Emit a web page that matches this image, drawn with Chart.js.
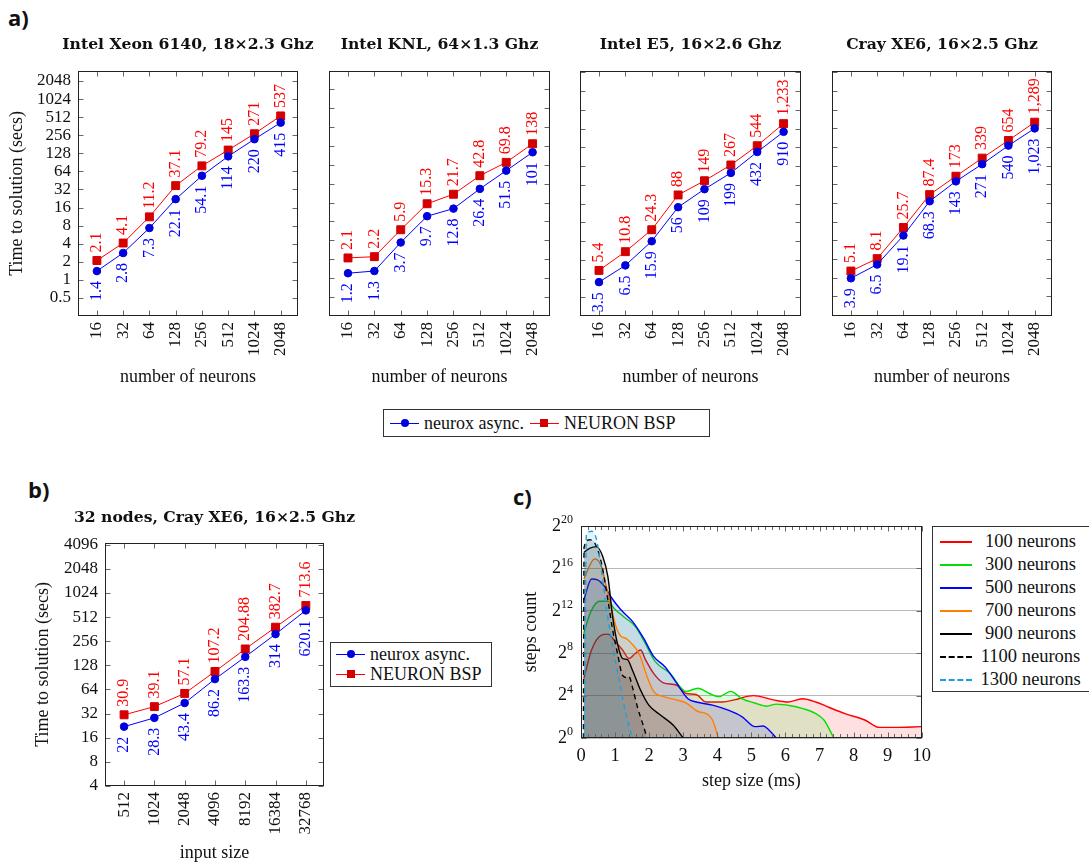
<!DOCTYPE html>
<html>
<head>
<meta charset="utf-8">
<script src="https://cdn.jsdelivr.net/npm/chart.js@4.4.1/dist/chart.umd.min.js"></script>
<style>
  body { margin: 0; background: #fff; }
  #fig { position: relative; width: 1089px; height: 864px; overflow: hidden; font-family: "Liberation Serif", serif; color: #111; }
  canvas { position: absolute; }
  .tag { position: absolute; font: bold 22px "Open Sans", sans-serif; line-height: 24px; color: #111; }
  .legend { position: absolute; box-sizing: border-box; border: 1px solid #333; background: #fff; font: 18px "Liberation Serif", serif; color: #111; }
  .sample { position: relative; display: inline-block; height: 0; }
  .mark { position: absolute; width: 8px; height: 8px; top: -5px; }
  .mark.dot { border-radius: 50%; }
  #legA { left: 383px; top: 409px; width: 327px; height: 28px; display: flex; align-items: center; padding-left: 6px; }
  #legA .item { display: flex; align-items: center; margin-right: 6px; }
  #legA .sample, #legB .sample { width: 29px; margin-right: 5px; }
  #legB { left: 330px; top: 642px; width: 162px; height: 45px; padding: 1px 0 0 5px; }
  #legB .item { display: flex; align-items: center; height: 20px; }
  #legC { left: 932px; top: 526px; width: 160px; height: 166px; padding: 3px 0 0 7px; font-size: 18.5px; }
  #legC .item { display: flex; align-items: center; height: 23px; }
  #legC .sample { width: 32px; }
  #legC .txt { display: inline-block; width: 109px; text-align: center; margin-left: 4px; }
</style>
</head>
<body>
<div id="fig">
  <div class="tag" style="left:8px;top:5px">a)</div>
  <div class="tag" style="left:28px;top:477px">b)</div>
  <div class="tag" style="left:513px;top:484px">c)</div>

  <canvas id="a1" width="376" height="363" style="left:0px;top:28px"></canvas>
  <canvas id="a2" width="281" height="363" style="left:299px;top:28px"></canvas>
  <canvas id="a3" width="281" height="363" style="left:550px;top:28px"></canvas>
  <canvas id="a4" width="280" height="363" style="left:802px;top:28px"></canvas>
  <div id="legA" class="legend"></div>

  <canvas id="b" width="429" height="374" style="left:0px;top:490px"></canvas>
  <div id="legB" class="legend"></div>

  <canvas id="c" width="423" height="290" style="left:515px;top:506px"></canvas>
  <div id="legC" class="legend"></div>
</div>

<script>
// ---- data, panel a : time to solution (secs) per number of neurons
const neuronCounts = ["16", "32", "64", "128", "256", "512", "1024", "2048"];
const xeonBsp = [2.1, 4.1, 11.2, 37.1, 79.2, 145, 271, 537];
const xeonAsync = [1.4, 2.8, 7.3, 22.1, 54.1, 114, 220, 415];
const knlBsp = [2.1, 2.2, 5.9, 15.3, 21.7, 42.8, 69.8, 138];
const knlAsync = [1.2, 1.3, 3.7, 9.7, 12.8, 26.4, 51.5, 101];
const e5Bsp = [5.4, 10.8, 24.3, 88, 149, 267, 544, 1233];
const e5Async = [3.5, 6.5, 15.9, 56, 109, 199, 432, 910];
const xe6Bsp = [5.1, 8.1, 25.7, 87.4, 173, 339, 654, 1289];
const xe6Async = [3.9, 6.5, 19.1, 68.3, 143, 271, 540, 1023];
const timeTicksXeon = [0.5, 1, 2, 4, 8, 16, 32, 64, 128, 256, 512, 1024, 2048];
const timeTicksKnl = [0.5, 1, 2, 4, 8, 16, 32, 64, 128, 256, 512, 1024];
const timeTicksLarge = [2, 4, 8, 16, 32, 64, 128, 256, 512, 1024, 2048, 4096, 8192];

// ---- data, panel b : 32 nodes, input size scaling
const inputSizes = ["512", "1024", "2048", "4096", "8192", "16384", "32768"];
const scaleBsp = [30.9, 39.1, 57.1, 107.2, 204.88, 382.7, 713.6];
const scaleAsync = [22, 28.3, 43.4, 86.2, 163.3, 314, 620.1];
const timeTicksB = [4, 8, 16, 32, 64, 128, 256, 512, 1024, 2048, 4096];

// ---- data, panel c : step size (ms) vs log2(steps count)
const stepX100 = [0.08, 0.31, 0.6, 0.79, 0.98, 1.22, 1.41, 1.6, 1.75, 1.89, 2.13, 2.42, 2.8, 3.09, 3.38, 3.67, 4.15, 4.5, 5.06, 5.64, 6.07, 6.5, 6.89, 7.27, 7.75, 8.33, 8.76, 9.2, 10];
const log2Steps100 = [5.6, 8.3, 9.7, 9.8, 9.2, 8.3, 7.5, 8.0, 8.3, 7.4, 6.1, 5.2, 5.0, 4.2, 4.1, 3.4, 3.4, 3.6, 4.0, 3.6, 3.4, 3.7, 3.4, 2.9, 2.3, 1.7, 1.0, 1.0, 1.07];
const stepX300 = [0.08, 0.3, 0.55, 0.79, 0.98, 1.27, 1.6, 1.89, 2.18, 2.61, 3.09, 3.43, 3.77, 4.05, 4.39, 4.73, 5.1, 5.45, 5.73, 6.31, 6.89, 7.13, 7.42];
const log2Steps300 = [9.9, 12.0, 12.9, 12.9, 12.2, 11.4, 10.5, 8.9, 7.2, 6.1, 4.4, 4.7, 4.2, 3.9, 4.4, 3.7, 3.3, 3.0, 3.2, 2.95, 2.3, 1.7, 0];
const stepX500 = [0.08, 0.31, 0.5, 0.69, 0.88, 1.17, 1.51, 1.84, 2.13, 2.47, 2.8, 3.14, 3.38, 3.86, 4.34, 4.73, 5.11, 5.35, 5.5, 5.73];
const log2Steps500 = [13.0, 15.0, 14.9, 14.3, 13.3, 12.1, 11.0, 9.4, 7.7, 6.7, 5.2, 3.7, 3.4, 3.1, 2.6, 2.0, 1.07, 1.13, 0.8, 0];
const stepX700 = [0.08, 0.4, 0.6, 0.74, 0.88, 1.03, 1.17, 1.32, 1.46, 1.7, 1.94, 2.13, 2.42, 2.8, 3.09, 3.43, 3.67, 3.86, 4.03];
const log2Steps700 = [15.0, 16.9, 16.2, 14.3, 12.4, 10.5, 9.6, 9.4, 9.0, 8.0, 5.8, 4.4, 3.9, 3.6, 3.3, 2.5, 2.3, 1.7, 0];
const stepX900 = [0.08, 0.25, 0.45, 0.64, 0.79, 0.93, 1.07, 1.22, 1.36, 1.51, 1.75, 1.99, 2.32, 2.71, 3.0];
const log2Steps900 = [17.5, 17.9, 18.05, 17.1, 15.2, 11.4, 8.9, 7.5, 7.4, 6.4, 4.5, 3.1, 2.2, 1.2, 0];
const stepX1100 = [0.07, 0.09, 0.26, 0.4, 0.6, 0.79, 0.93, 1.07, 1.22, 1.34, 1.41, 1.51, 1.65, 1.84, 1.96, 10];
const log2Steps1100 = [0, 18.0, 18.7, 18.4, 16.5, 13.0, 10.2, 8.0, 5.9, 5.7, 5.8, 4.8, 3.0, 1.07, 0, 0];
const stepX1300 = [0.1, 0.16, 0.31, 0.45, 0.6, 0.74, 0.93, 1.12, 1.32, 1.56, 10];
const log2Steps1300 = [0, 19.3, 19.5, 18.8, 15.8, 12.4, 8.6, 5.5, 2.3, 0, 0];

Chart.defaults.font.family = '"Liberation Serif", serif';
Chart.defaults.color = "#111";

const SERIF = '"Liberation Serif", serif';

// pgfplots style frame with inward tick marks
const frameTicks = {
  id: "frameTicks",
  afterDatasetsDraw(chart, args, opts) {
    const { ctx, chartArea: a, scales } = chart;
    const x = scales.x, y = scales.y;
    const L = Math.round(a.left) + 0.5, R = Math.round(a.right) - 0.5;
    const T = Math.round(a.top) + 0.5, B = Math.round(a.bottom) - 0.5;
    ctx.save();
    ctx.strokeStyle = "#666";
    ctx.lineWidth = 1;
    ctx.beginPath();
    y.ticks.forEach(t => {
      const p = Math.round(y.getPixelForValue(t.value)) + 0.5;
      ctx.moveTo(L, p); ctx.lineTo(L + 5, p);
      ctx.moveTo(R, p); ctx.lineTo(R - 5, p);
    });
    x.ticks.forEach(t => {
      const p = Math.round(x.getPixelForValue(t.value)) + 0.5;
      ctx.moveTo(p, T); ctx.lineTo(p, T + 5);
      ctx.moveTo(p, B); ctx.lineTo(p, B - 5);
    });
    if (opts.minorStep) {
      for (let v = x.min; v <= x.max + 1e-9; v += opts.minorStep) {
        const p = Math.round(x.getPixelForValue(v)) + 0.5;
        ctx.moveTo(p, T); ctx.lineTo(p, T + 3.5);
        ctx.moveTo(p, B); ctx.lineTo(p, B - 3.5);
      }
    }
    ctx.stroke();
    ctx.strokeStyle = "#222";
    ctx.strokeRect(L, T, R - L, B - T);
    ctx.restore();
  }
};

// rotated value labels next to each point
const pointLabels = {
  id: "pointLabels",
  afterDatasetsDraw(chart) {
    const ctx = chart.ctx;
    chart.data.datasets.forEach((ds, i) => {
      if (!ds.labelSide) return;
      const meta = chart.getDatasetMeta(i);
      meta.data.forEach((pt, j) => {
        const above = ds.labelSide === "above";
        ctx.save();
        ctx.translate(pt.x, above ? pt.y - 8 : pt.y + 10);
        ctx.rotate(-Math.PI / 2);
        ctx.font = "16px " + SERIF;
        ctx.fillStyle = ds.borderColor;
        ctx.textAlign = above ? "left" : "right";
        ctx.textBaseline = "middle";
        ctx.fillText(ds.data[j].y.toLocaleString("en-US"), 0, 0);
        ctx.restore();
      });
    });
  }
};

// 2^n labels for panel c
const powerLabels = {
  id: "powerLabels",
  afterDraw(chart) {
    const { ctx, chartArea: a, scales: { y } } = chart;
    ctx.save();
    ctx.fillStyle = "#111";
    ctx.textAlign = "right";
    ctx.textBaseline = "middle";
    y.ticks.forEach(t => {
      const py = y.getPixelForValue(t.value);
      const exp = String(t.value);
      ctx.font = "12px " + SERIF;
      const ew = ctx.measureText(exp).width;
      ctx.fillText(exp, a.left - 8, py - 6);
      ctx.font = "18px " + SERIF;
      ctx.fillText("2", a.left - 8 - ew, py);
    });
    ctx.restore();
  }
};

function asPoints(values) {
  return values.map((v, i) => ({ x: i, y: v }));
}

function timeSeries(bsp, async) {
  return [
    {
      label: "neurox async.", data: asPoints(async), labelSide: "below",
      borderColor: "#0000ff", borderWidth: 1, pointStyle: "circle", pointRadius: 3.8,
      pointBackgroundColor: "#0000dd", pointBorderColor: "#0000dd"
    },
    {
      label: "NEURON BSP", data: asPoints(bsp), labelSide: "above",
      borderColor: "#ff0000", borderWidth: 1, pointStyle: "rect", pointRadius: 5.6,
      pointBackgroundColor: "#d40000", pointBorderColor: "#d40000"
    }
  ];
}

function timeChart(id, opt) {
  return new Chart(document.getElementById(id), {
    type: "line",
    data: { datasets: timeSeries(opt.bsp, opt.async) },
    options: {
      responsive: false, animation: false, devicePixelRatio: 1,
      layout: { padding: 0 },
      plugins: {
        legend: { display: false }, tooltip: { enabled: false },
        title: {
          display: true, text: opt.title, color: "#111",
          font: { family: '"DejaVu Serif", serif', size: 15.6, weight: "bold" },
          padding: { top: opt.titleTop, bottom: opt.titleBottom }
        }
      },
      scales: {
        x: {
          type: "linear", min: opt.xMin, max: opt.xMax,
          grid: { display: false, drawTicks: false }, border: { display: false },
          afterBuildTicks: s => { s.ticks = opt.labels.map((l, i) => ({ value: i })); },
          afterFit: s => { s.height = opt.xHeight; },
          ticks: {
            minRotation: 90, maxRotation: 90, padding: 6, autoSkip: false,
            font: { size: 17 }, color: "#111",
            callback: v => opt.labels[v]
          },
          title: { display: true, text: opt.xTitle, font: { size: 18 }, color: "#111", padding: { top: 0, bottom: opt.xTitleBottom } }
        },
        y: {
          type: "logarithmic", min: opt.yMin, max: opt.yMax,
          grid: { display: false, drawTicks: false }, border: { display: false },
          afterBuildTicks: s => { s.ticks = opt.yTicks.map(v => ({ value: v })); },
          afterFit: s => { s.width = opt.yWidth; },
          ticks: { display: opt.showY, autoSkip: false, padding: 7, font: { size: 17 }, color: "#111", callback: v => String(v) },
          title: { display: opt.showY, text: "Time to solution (secs)", font: { size: 18 }, color: "#111", padding: { top: opt.yTitleTop, bottom: 0 } }
        },
        // empty box on the right so the panel title stays centred over the plot
        spacer: {
          type: "linear", position: "right", display: true,
          grid: { display: false, drawTicks: false }, border: { display: false },
          ticks: { display: false },
          afterFit: s => { s.width = opt.rightWidth; }
        }
      }
    },
    plugins: [frameTicks, pointLabels]
  });
}

const panelA = { xMin: -0.72, xMax: 7.66, labels: neuronCounts, xHeight: 75, xTitle: "number of neurons", xTitleBottom: 3, titleTop: 8, titleBottom: 16 };

const chartA1 = timeChart("a1", Object.assign({}, panelA, {
  title: "Intel Xeon 6140, 18\u00d72.3 Ghz", bsp: xeonBsp, async: xeonAsync,
  yWidth: 78, rightWidth: 78, showY: true, yTitleTop: 6,
  yMin: 0.25, yMax: 3040, yTicks: timeTicksXeon
}));
timeChart("a2", Object.assign({}, panelA, {
  title: "Intel KNL, 64\u00d71.3 Ghz", bsp: knlBsp, async: knlAsync,
  yWidth: 30, rightWidth: 30, showY: false, yTitleTop: 0,
  yMin: 0.25, yMax: 2006, yTicks: timeTicksKnl
}));
timeChart("a3", Object.assign({}, panelA, {
  title: "Intel E5, 16\u00d72.6 Ghz", bsp: e5Bsp, async: e5Async,
  yWidth: 30, rightWidth: 30, showY: false, yTitleTop: 0,
  yMin: 1, yMax: 8720, yTicks: timeTicksLarge
}));
timeChart("a4", Object.assign({}, panelA, {
  title: "Cray XE6, 16\u00d72.5 Ghz", bsp: xe6Bsp, async: xe6Async,
  yWidth: 30, rightWidth: 30, showY: false, yTitleTop: 0,
  yMin: 0.96, yMax: 8720, yTicks: timeTicksLarge
}));

const chartB = timeChart("b", {
  title: "32 nodes, Cray XE6, 16\u00d72.5 Ghz", bsp: scaleBsp, async: scaleAsync,
  xMin: -0.63, xMax: 6.6, labels: inputSizes, xHeight: 78, xTitle: "input size", xTitleBottom: 0,
  titleTop: 19, titleBottom: 15,
  yWidth: 105, rightWidth: 105, showY: true, yTitleTop: 32,
  yMin: 4, yMax: 4330, yTicks: timeTicksB
});

// ---- panel c
function stepSeries(label, xs, ys, color, fill, dash) {
  return {
    label: label, data: xs.map((x, i) => ({ x: x, y: ys[i] })),
    borderColor: color, backgroundColor: fill, borderWidth: 1.4, borderDash: dash || [],
    fill: "origin", pointRadius: 0, cubicInterpolationMode: "monotone"
  };
}
const stepSets = [
  stepSeries("100 neurons", stepX100, log2Steps100, "#ff0000", "rgba(255,0,0,0.12)"),
  stepSeries("300 neurons", stepX300, log2Steps300, "#00e000", "rgba(0,224,0,0.12)"),
  stepSeries("500 neurons", stepX500, log2Steps500, "#0000ff", "rgba(0,0,255,0.12)"),
  stepSeries("700 neurons", stepX700, log2Steps700, "#ff8000", "rgba(255,128,0,0.12)"),
  stepSeries("900 neurons", stepX900, log2Steps900, "#000000", "rgba(0,0,0,0.12)"),
  stepSeries("1100 neurons", stepX1100, log2Steps1100, "#000000", "rgba(0,0,0,0.12)", [5, 4]),
  stepSeries("1300 neurons", stepX1300, log2Steps1300, "#1ba1e2", "rgba(27,161,226,0.12)", [5, 4])
];
// first series at the bottom of the stack, like the original drawing order
stepSets.forEach((ds, i) => { ds.order = stepSets.length - i; });

const chartC = new Chart(document.getElementById("c"), {
  type: "line",
  data: { datasets: stepSets },
  options: {
    responsive: false, animation: false, devicePixelRatio: 1,
    layout: { padding: { left: 0, right: 10, top: 20, bottom: 0 } },
    plugins: { legend: { display: false }, tooltip: { enabled: false }, frameTicks: { minorStep: 0.2 } },
    scales: {
      x: {
        type: "linear", min: 0, max: 10,
        grid: { display: false, drawTicks: false }, border: { display: false },
        afterFit: s => { s.height = 58; },
        ticks: { stepSize: 1, padding: 7, font: { size: 18.5 }, color: "#111", maxRotation: 0 },
        title: { display: true, text: "step size (ms)", font: { size: 18 }, color: "#111", padding: { top: 0, bottom: 4 } }
      },
      y: {
        type: "linear", min: 0, max: 20,
        grid: { color: "#b8b8b8", lineWidth: 1, drawTicks: false }, border: { display: false },
        afterFit: s => { s.width = 66; },
        ticks: { stepSize: 4, display: false },
        title: { display: true, text: "steps count", font: { size: 18 }, color: "#111", padding: { top: 5, bottom: 0 } }
      }
    }
  },
  plugins: [frameTicks, powerLabels]
});

// ---- HTML legends built from the chart datasets
function buildLegend(el, chart, lineWidth) {
  chart.data.datasets.forEach(ds => {
    const item = document.createElement("div");
    item.className = "item";
    const sample = document.createElement("span");
    sample.className = "sample";
    const dashed = ds.borderDash && ds.borderDash.length;
    sample.style.borderTop = lineWidth + "px " + (dashed ? "dashed " : "solid ") + ds.borderColor;
    if (ds.pointStyle) {
      const m = document.createElement("i");
      m.className = ds.pointStyle === "rect" ? "mark" : "mark dot";
      m.style.background = ds.pointBackgroundColor;
      m.style.left = "10.5px";
      sample.appendChild(m);
    }
    const txt = document.createElement("span");
    txt.className = "txt";
    txt.textContent = ds.label;
    item.append(sample, txt);
    el.appendChild(item);
  });
}
buildLegend(document.getElementById("legA"), chartA1, 1);
buildLegend(document.getElementById("legB"), chartB, 1);
buildLegend(document.getElementById("legC"), chartC, 2);
</script>
</body>
</html>
